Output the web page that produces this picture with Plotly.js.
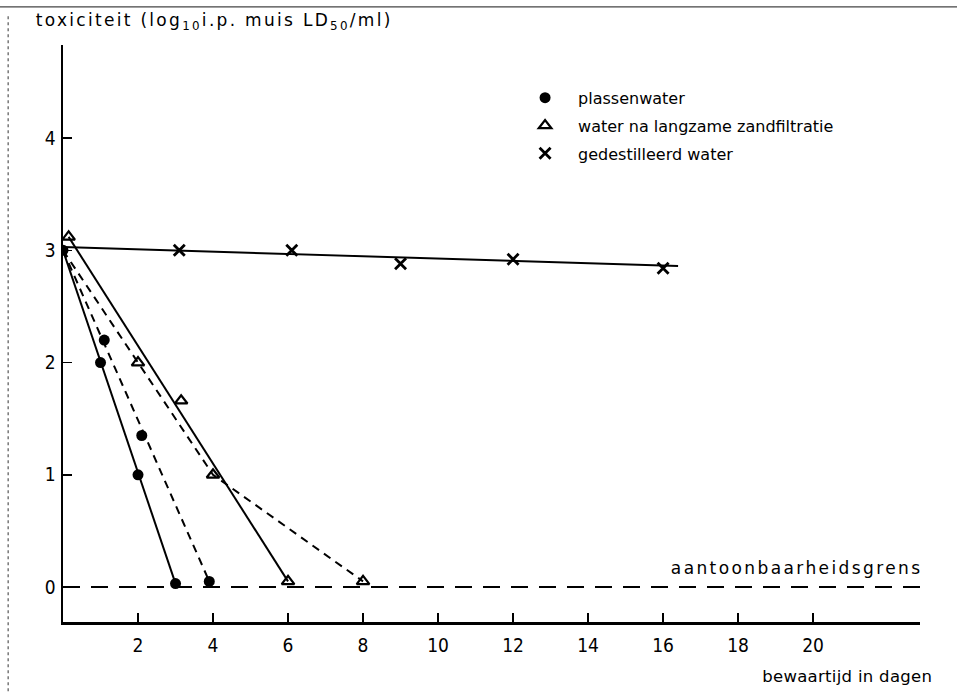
<!DOCTYPE html>
<html>
<head>
<meta charset="utf-8">
<script src="https://cdn.plot.ly/plotly-3.0.1.min.js"></script>
<style>
html,body{margin:0;padding:0;background:#fff;}
#chart{width:957px;height:693px;}
#chart g.annotation[data-index="0"] text{letter-spacing:2.3px;}
#chart g.annotation[data-index="1"] text{letter-spacing:0.3px;}
#chart g.annotation[data-index="2"] text{letter-spacing:2.4px;}
</style>
</head>
<body>
<div id="chart"></div>
<script>
// Measured points
const plasX = [0, 1, 1.1, 2, 2.1, 3, 3.9];
const plasY = [3, 2, 2.2, 1, 1.35, 0.03, 0.05];
const zandX = [0.15, 2, 3.15, 4, 6, 8];
const zandY = [3.12, 2, 1.66, 1, 0.05, 0.05];
const destX = [3.1, 6.1, 9, 12, 16];
const destY = [3.0, 3.0, 2.88, 2.92, 2.84];

// Drawn lines
const plasSolidX = [0, 3], plasSolidY = [3, 0.03];
const plasDashX = [0, 3.9], plasDashY = [3, 0.05];
const zandSolidX = [0.15, 6], zandSolidY = [3.12, 0.05];
const zandDashX = [0, 4, 8], zandDashY = [3, 1, 0.05];
const destLineX = [0, 16.4], destLineY = [3.03, 2.86];
const limitX = [0, 22.85], limitY = [0, 0];

const xTicks = [2, 4, 6, 8, 10, 12, 14, 16, 18, 20];
const yTicks = [0, 1, 2, 3, 4];

const seriesNames = ['plassenwater', 'water na langzame zandfiltratie', 'gedestilleerd water'];

const FONT = '"DejaVu Sans", "Noto Sans", sans-serif';
const TICKFONT = '"Liberation Sans Narrow", "DejaVu Sans Condensed", "DejaVu Sans", sans-serif';

function line(x, y, dash) {
  return {x: x, y: y, mode: 'lines', type: 'scatter', showlegend: false, hoverinfo: 'skip',
    line: {color: '#000', width: 2, dash: dash}};
}

const traces = [
  line(limitX, limitY, '17px,11px'),
  line(plasSolidX, plasSolidY, 'solid'),
  line(plasDashX, plasDashY, '8px,6px'),
  line(zandSolidX, zandSolidY, 'solid'),
  line(zandDashX, zandDashY, '8px,6px'),
  line(destLineX, destLineY, 'solid'),
  {x: plasX, y: plasY, mode: 'markers', type: 'scatter', name: seriesNames[0], legendgroup: 'a',
    marker: {symbol: 'circle', size: 11, color: '#000'}},
  {x: zandX, y: zandY, mode: 'markers', type: 'scatter', name: seriesNames[1], legendgroup: 'b',
    marker: {symbol: 'triangle-up-open', size: 11, color: '#000', line: {width: 2.2, color: '#000'}}},
  {x: destX, y: destY, mode: 'markers', type: 'scatter', name: seriesNames[2], legendgroup: 'c',
    marker: {symbol: 'x-thin', size: 11, color: '#000', line: {width: 2.8, color: '#000'}}}
];

const layout = {
  width: 957, height: 693,
  margin: {l: 63, r: 37, t: 45, b: 71},
  paper_bgcolor: '#fff', plot_bgcolor: '#fff',
  font: {family: FONT, size: 16, color: '#000'},
  showlegend: true,
  legend: {x: 0.524, y: 0.938, xanchor: 'left', yanchor: 'top', bgcolor: 'rgba(0,0,0,0)',
    font: {family: FONT, size: 16, color: '#000'}, tracegroupgap: 4, itemwidth: 56},
  xaxis: {range: [0, 22.85], showgrid: false, zeroline: false, showline: true, linecolor: '#000', linewidth: 2.5,
    ticks: 'inside', ticklen: 9, tickwidth: 1.5, tickcolor: '#000', tickvals: xTicks, ticktext: xTicks.map(String),
    tickfont: {family: TICKFONT, size: 19}, ticklabelstandoff: 5, fixedrange: true},
  yaxis: {range: [-0.312, 4.83], showgrid: false, zeroline: false, showline: true, linecolor: '#000', linewidth: 2.5,
    ticks: 'inside', ticklen: 9, tickwidth: 1.5, tickcolor: '#000', tickvals: yTicks, ticktext: yTicks.map(String),
    tickfont: {family: TICKFONT, size: 19}, ticklabelstandoff: 1, fixedrange: true},
  annotations: [
    {xref: 'paper', yref: 'paper', x: 0.176, y: 1.040, xanchor: 'center', yanchor: 'middle', showarrow: false,
      text: 'toxiciteit (log<sub>10</sub>i.p. muis LD<sub>50</sub>/ml)', font: {family: FONT, size: 17}},
    {xref: 'paper', yref: 'paper', x: 0.915, y: -0.095, xanchor: 'center', yanchor: 'middle', showarrow: false,
      text: 'bewaartijd in dagen', font: {family: FONT, size: 16.5}},
    {xref: 'paper', yref: 'paper', x: 0.856, y: 0.094, xanchor: 'center', yanchor: 'middle', showarrow: false,
      text: 'aantoonbaarheidsgrens', font: {family: FONT, size: 17}}
  ],
  shapes: [
    {type: 'line', xref: 'paper', yref: 'paper', x0: -0.074, x1: 1.05, y0: 1.066, y1: 1.066,
      line: {color: '#444', width: 1.2}},
    {type: 'line', xref: 'paper', yref: 'paper', x0: -0.064, x1: -0.064, y0: -0.12, y1: 1.05,
      line: {color: '#555', width: 1.2, dash: 'dot'}}
  ]
};

Plotly.newPlot('chart', traces, layout, {staticPlot: true, displayModeBar: false});
</script>
</body>
</html>
